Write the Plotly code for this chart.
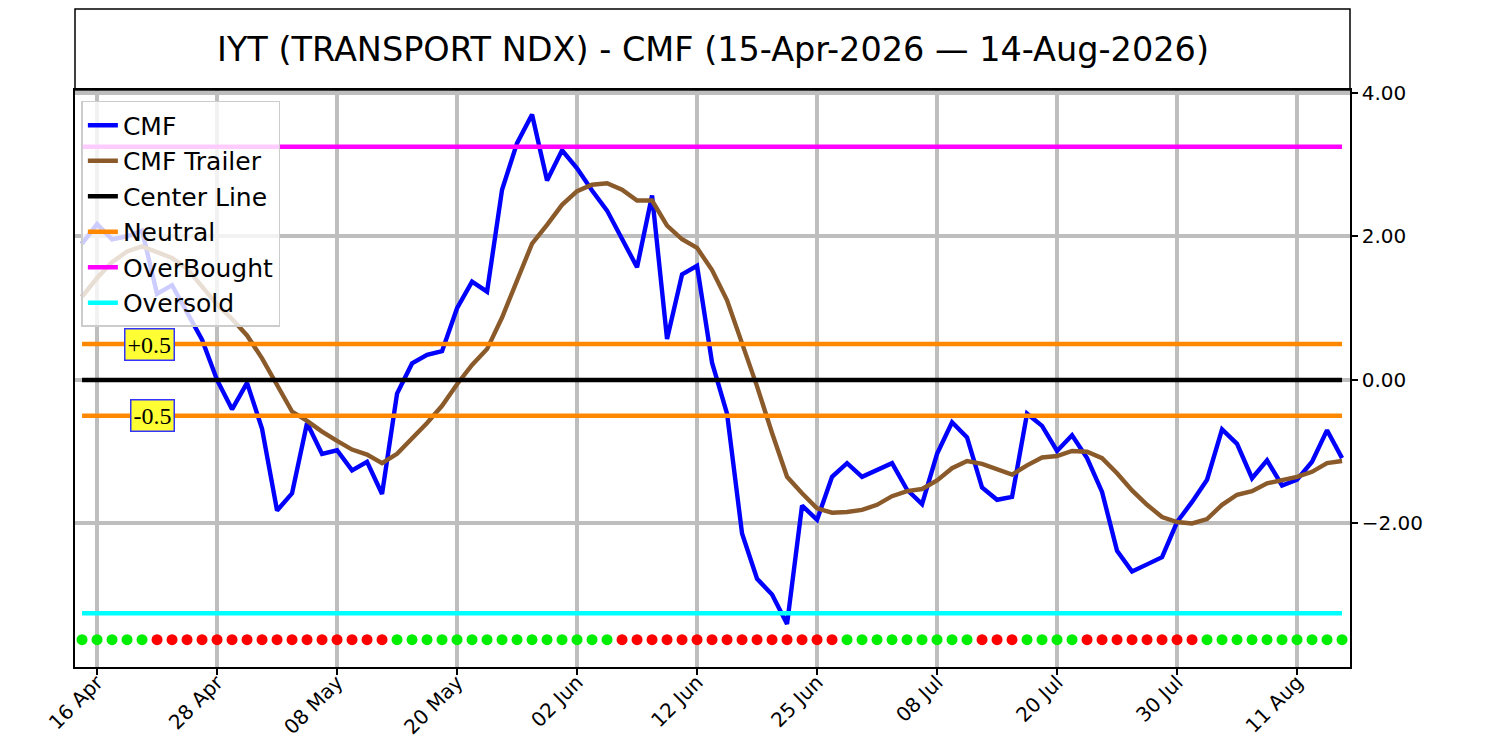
import plotly.graph_objects as go

dates = [
    "2026-04-15", "2026-04-16", "2026-04-17", "2026-04-20", "2026-04-21", "2026-04-22",
    "2026-04-23", "2026-04-24", "2026-04-27", "2026-04-28", "2026-04-29", "2026-04-30",
    "2026-05-01", "2026-05-04", "2026-05-05", "2026-05-06", "2026-05-07", "2026-05-08",
    "2026-05-11", "2026-05-12", "2026-05-13", "2026-05-14", "2026-05-15", "2026-05-18",
    "2026-05-19", "2026-05-20", "2026-05-21", "2026-05-22", "2026-05-26", "2026-05-27",
    "2026-05-28", "2026-05-29", "2026-06-01", "2026-06-02", "2026-06-03", "2026-06-04",
    "2026-06-05", "2026-06-08", "2026-06-09", "2026-06-10", "2026-06-11", "2026-06-12",
    "2026-06-15", "2026-06-16", "2026-06-17", "2026-06-18", "2026-06-22", "2026-06-23",
    "2026-06-24", "2026-06-25", "2026-06-26", "2026-06-29", "2026-06-30", "2026-07-01",
    "2026-07-02", "2026-07-06", "2026-07-07", "2026-07-08", "2026-07-09", "2026-07-10",
    "2026-07-13", "2026-07-14", "2026-07-15", "2026-07-16", "2026-07-17", "2026-07-20",
    "2026-07-21", "2026-07-22", "2026-07-23", "2026-07-24", "2026-07-27", "2026-07-28",
    "2026-07-29", "2026-07-30", "2026-07-31", "2026-08-03", "2026-08-04", "2026-08-05",
    "2026-08-06", "2026-08-07", "2026-08-10", "2026-08-11", "2026-08-12", "2026-08-13",
    "2026-08-14",
]

cmf = [
    1.90, 2.17, 1.96, 2.00, 2.08, 1.20, 1.32, 0.93, 0.56, 0.00,
    -0.41, -0.04, -0.68, -1.82, -1.58, -0.60, -1.03, -0.98, -1.26, -1.14,
    -1.59, -0.19, 0.23, 0.35, 0.40, 1.00, 1.37, 1.23, 2.65, 3.30,
    3.70, 2.78, 3.20, 2.95, 2.64, 2.36, 1.96, 1.57, 2.57, 0.57,
    1.47, 1.59, 0.24, -0.47, -2.14, -2.77, -2.99, -3.40, -1.75, -1.95,
    -1.35, -1.16, -1.35, -1.25, -1.16, -1.53, -1.73, -1.03, -0.59, -0.80,
    -1.50, -1.67, -1.63, -0.47, -0.64, -0.99, -0.77, -1.09, -1.56, -2.38,
    -2.67, -2.57, -2.47, -1.98, -1.70, -1.39, -0.69, -0.89, -1.37, -1.12,
    -1.47, -1.39, -1.14, -0.70, -1.09,
]

cmf_trailer = [
    1.16, 1.42, 1.64, 1.79, 1.86, 1.78, 1.70, 1.55, 1.30, 1.05,
    0.85, 0.62, 0.30, -0.08, -0.44, -0.57, -0.72, -0.85, -0.97, -1.04,
    -1.16, -1.03, -0.82, -0.60, -0.36, -0.06, 0.21, 0.43, 0.87, 1.38,
    1.90, 2.16, 2.44, 2.63, 2.72, 2.74, 2.65, 2.50, 2.50, 2.15,
    1.96, 1.84, 1.53, 1.11, 0.51, -0.09, -0.74, -1.35, -1.58, -1.79,
    -1.85, -1.84, -1.81, -1.74, -1.62, -1.55, -1.52, -1.40, -1.23, -1.13,
    -1.17, -1.25, -1.32, -1.19, -1.08, -1.06, -0.99, -1.00, -1.09, -1.30,
    -1.54, -1.74, -1.91, -1.98, -2.00, -1.94, -1.74, -1.60, -1.55, -1.44,
    -1.40, -1.35, -1.28, -1.16, -1.13,
]

# 1 = green dot, 0 = red dot
signal = [
    1, 1, 1, 1, 1,
    0, 0, 0, 0, 0, 0, 0, 0, 0, 0, 0, 0, 0, 0, 0, 0,
    1, 1, 1, 1, 1, 1, 1, 1, 1, 1, 1, 1, 1, 1, 1,
    0, 0, 0, 0, 0, 0, 0, 0, 0, 0, 0, 0, 0, 0, 0,
    1, 1, 1, 1, 1, 1, 1, 1, 1,
    0, 0, 0,
    1, 1, 1, 1,
    0, 0, 0, 0, 0, 0, 0, 0,
    1, 1, 1, 1, 1, 1, 1, 1, 1, 1,
]

center_level = 0.0
neutral_high = 0.5
neutral_low = -0.5
overbought_level = 3.25
oversold_level = -3.25
dot_level = -3.62

tick_dates = ["2026-04-16", "2026-04-28", "2026-05-08", "2026-05-20", "2026-06-02",
              "2026-06-12", "2026-06-25", "2026-07-08", "2026-07-20", "2026-07-30",
              "2026-08-11"]
tick_labels = ["16 Apr", "28 Apr", "08 May", "20 May", "02 Jun", "12 Jun",
               "25 Jun", "08 Jul", "20 Jul", "30 Jul", "11 Aug"]
y_ticks = [4, 2, 0, -2]

title_text = "IYT (TRANSPORT NDX) - CMF (15-Apr-2026 \u2014 14-Aug-2026)"

n = len(dates)
LW = 4.4
FONT = "DejaVu Sans"

fig = go.Figure()

fig.add_trace(go.Scatter(x=dates, y=cmf, mode="lines", name="CMF",
                         line=dict(color="#0000ff", width=LW)))
fig.add_trace(go.Scatter(x=dates, y=cmf_trailer, mode="lines", name="CMF Trailer",
                         line=dict(color="#8b5a2b", width=LW)))
fig.add_trace(go.Scatter(x=dates, y=[center_level] * n, mode="lines", name="Center Line",
                         line=dict(color="#000000", width=LW)))
fig.add_trace(go.Scatter(x=dates, y=[neutral_high] * n, mode="lines", name="Neutral",
                         legendgroup="neutral",
                         line=dict(color="#ff8800", width=LW)))
fig.add_trace(go.Scatter(x=dates, y=[neutral_low] * n, mode="lines", name="Neutral",
                         legendgroup="neutral", showlegend=False,
                         line=dict(color="#ff8800", width=LW)))
fig.add_trace(go.Scatter(x=dates, y=[overbought_level] * n, mode="lines", name="OverBought",
                         line=dict(color="#ff00ff", width=LW)))
fig.add_trace(go.Scatter(x=dates, y=[oversold_level] * n, mode="lines", name="Oversold",
                         line=dict(color="#00ffff", width=LW)))
fig.add_trace(go.Scatter(x=dates, y=[dot_level] * n, mode="markers", showlegend=False,
                         marker=dict(size=11,
                                     color=["#00ee00" if s == 1 else "#ff0000" for s in signal],
                                     line=dict(width=0))))

grid_color = "#bebebe"

fig.update_xaxes(
    type="category", automargin=False,
    range=[-0.47, n - 1 + 0.53],
    tickmode="array", tickvals=tick_dates, ticktext=tick_labels,
    tickangle=-45, ticks="outside", ticklen=6, tickwidth=1.5, tickcolor="#000000",
    ticklabelstandoff=-12,
    tickfont=dict(family=FONT, size=20, color="#000000"),
    showgrid=True, gridcolor=grid_color, gridwidth=4,
    showline=True, linecolor="#000000", linewidth=1.5, mirror=True,
    zeroline=False,
)
fig.update_yaxes(
    side="right", automargin=False,
    range=[-4.0, 4.04],
    tickmode="array", tickvals=y_ticks, tickformat=".2f",
    ticks="outside", ticklen=6, tickwidth=1.5, tickcolor="#000000",
    tickfont=dict(family=FONT, size=20, color="#000000"),
    showgrid=True, gridcolor=grid_color, gridwidth=4,
    showline=True, linecolor="#000000", linewidth=1.5, mirror=True,
    zeroline=False,
)

W, H = 1484, 734
M_L, M_R, M_T, M_B = 67, 142, 82, 75
plot_h = H - M_T - M_B
title_top = 1 + 81 / plot_h

fig.add_shape(type="rect", xref="paper", yref="paper", x0=0, x1=1, y0=1, y1=title_top,
              line=dict(color="#000000", width=1.5), fillcolor="rgba(0,0,0,0)", layer="above")
fig.add_annotation(text=title_text, xref="paper", yref="paper", x=0.5,
                   y=(1 + title_top) / 2, xanchor="center", yanchor="middle", showarrow=False,
                   font=dict(family=FONT, size=33.5, color="#000000"))

for label, level in (("+0.5", neutral_high), ("-0.5", neutral_low)):
    fig.add_annotation(text=label, x=6.2, y=level, xref="x", yref="y",
                       xanchor="right", yanchor="middle", showarrow=False,
                       font=dict(family="Liberation Serif", size=24, color="#000000"),
                       bgcolor="#ffff33", bordercolor="#3333ff", borderwidth=1.5, borderpad=2)

fig.update_layout(
    width=W, height=H,
    margin=dict(l=M_L, r=M_R, t=M_T, b=M_B, autoexpand=False),
    paper_bgcolor="#ffffff", plot_bgcolor="#ffffff",
    font=dict(family=FONT, color="#000000"),
    showlegend=True,
    legend=dict(x=0.005, y=0.981, xanchor="left", yanchor="top",
                bgcolor="rgba(255,255,255,0.8)", bordercolor="#cccccc", borderwidth=1.5,
                font=dict(family=FONT, size=25, color="#000000"),
                itemwidth=30, tracegroupgap=0),
)

fig.write_html("out.html")
